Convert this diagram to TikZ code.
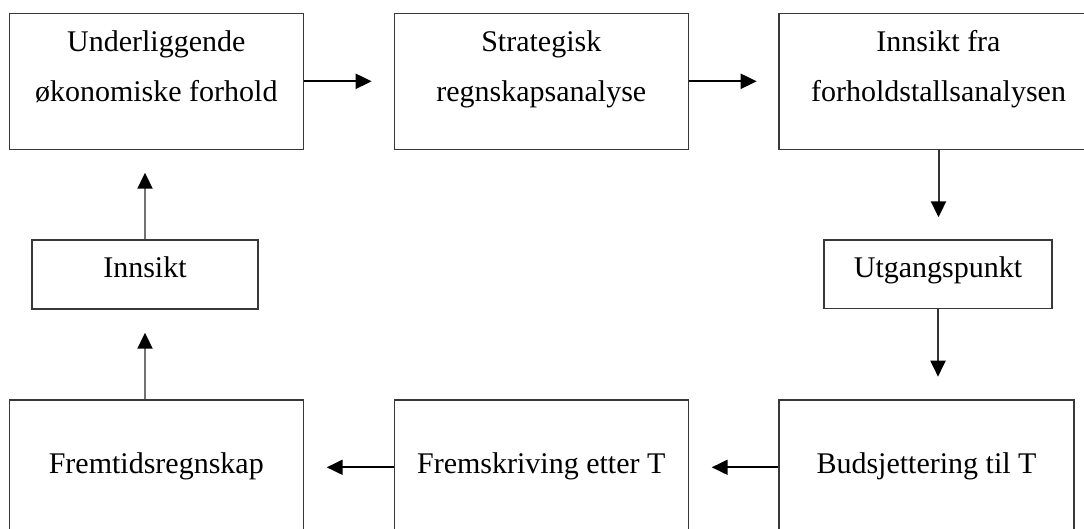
\documentclass[tikz,border=0pt]{standalone}
\usepackage{fontspec}
\setmainfont{Liberation Serif}
\usetikzlibrary{arrows.meta}

\begin{document}
\begin{tikzpicture}[x=1pt, y=-1pt,
  box/.style={draw=black!78, line width=1.4pt, rectangle, inner sep=0pt},
  lbl/.style={font=\fontsize{30}{50}\selectfont, align=center, inner sep=0pt, text=black},
  flow/.style={line width=2pt, draw=black, -{Triangle[length=16pt, width=15pt, black]}},
  upflow/.style={line width=2pt, draw=black!55, -{Triangle[length=16pt, width=15pt, black]}},
  downflow/.style={line width=2pt, draw=black!80, -{Triangle[length=16pt, width=15pt, black]}}]

  % page area; boxes running past the edges are cut off here
  \clip (0,0) rectangle (1084,529);
  \fill[white] (0,0) rectangle (1084,529);

  % process boxes
  \node[box, minimum width=294pt, minimum height=136pt] (A) at (156.3,81.3) {};
  \node[box, minimum width=294pt, minimum height=136pt] (B) at (541.3,81.3) {};
  \node[box, minimum width=319pt, minimum height=136pt] (C) at (938.5,81.3) {};
  \node[box, minimum width=226pt, minimum height=69pt] (D) at (145,274.5) {};
  \node[box, minimum width=228pt, minimum height=68.3pt] (E) at (938,274.2) {};
  \node[box, minimum width=294pt, minimum height=160pt] (F) at (156.3,480) {};
  \node[box, minimum width=294pt, minimum height=160pt] (G) at (541.3,480) {};
  \node[box, minimum width=295pt, minimum height=160pt] (H) at (926.5,480) {};

  % box texts (base anchor = baseline of the last line)
  \node[lbl, anchor=base] (At) at (156.3,101.7) {Underliggende\\økonomiske forhold};
  \node[lbl, anchor=base] (Bt) at (541.3,101.7) {Strategisk\\regnskapsanalyse};
  \node[lbl, anchor=base] (Ct) at (938.5,101.7) {Innsikt fra\\forholdstallsanalysen};
  \node[lbl, anchor=base] (Dt) at (145,277.7) {Innsikt};
  \node[lbl, anchor=base] (Et) at (938,277.3) {Utgangspunkt};
  \node[lbl, anchor=base] (Ft) at (156.3,473) {Fremtidsregnskap};
  \node[lbl, anchor=base] (Gt) at (541.3,473) {Fremskriving etter T};
  \node[lbl, anchor=base] (Ht) at (926.5,473) {Budsjettering til T};

  % arrow tips, each short of the box it points at
  \coordinate (tAB) at (371.7,81.3);
  \coordinate (tBC) at (756.7,81.3);
  \coordinate (tCE) at (938.5,217.3);
  \coordinate (tEH) at (938,376.7);
  \coordinate (tHG) at (711.7,467.3);
  \coordinate (tGF) at (326.7,467.3);
  \coordinate (tFD) at (145,332.7);
  \coordinate (tDA) at (145,172.7);

  % connectors
  \draw[flow] (A.east) -- (tAB);
  \draw[flow] (B.east) -- (tBC);
  \draw[downflow] (C.south) -- (tCE);
  \draw[downflow] (E.south) -- (tEH);
  \draw[flow] (H.west |- tHG) -- (tHG);
  \draw[flow] (G.west |- tGF) -- (tGF);
  \draw[upflow] (D.south |- F.north) -- (tFD);
  \draw[upflow] (D.north) -- (tDA);
\end{tikzpicture}
\end{document}
